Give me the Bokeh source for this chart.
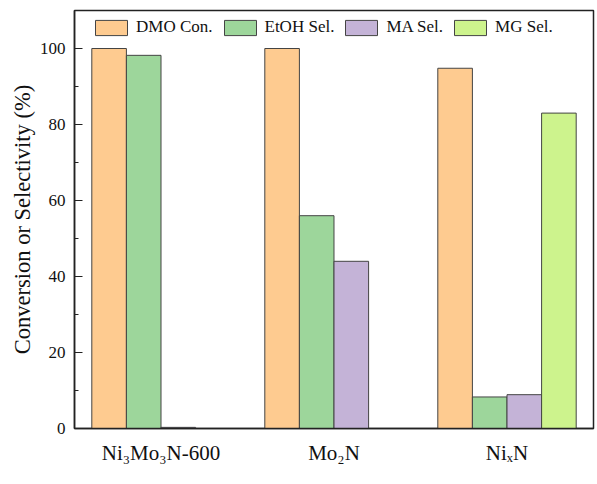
from bokeh.plotting import figure
from bokeh.models import ColumnDataSource, FactorRange, Range1d, SingleIntervalTicker, Legend, LegendItem
from bokeh.transform import dodge
from bokeh.embed import file_html
from bokeh.resources import INLINE

catalysts = ["Ni\u2083Mo\u2083N-600", "Mo\u2082N", "Ni\u2093N"]
dmo_con = [100.0, 100.0, 94.8]
etoh_sel = [98.2, 56.0, 8.3]
ma_sel = [0.3, 44.0, 8.9]
mg_sel = [0.0, 0.0, 83.0]

series_names = ["DMO Con.", "EtOH Sel.", "MA Sel.", "MG Sel."]
series_values = [dmo_con, etoh_sel, ma_sel, mg_sel]
series_colors = ["#FECB90", "#9DD69B", "#C4B3D7", "#CDF38D"]
offsets = [-0.3, -0.1, 0.1, 0.3]

FONT = "Liberation Serif"

p = figure(width=596, height=482, x_range=FactorRange(*catalysts, range_padding=0),
           y_range=Range1d(0, 110), output_backend="svg", toolbar_location=None,
           min_border_left=74, min_border_right=3, min_border_top=10, min_border_bottom=54)

items = []
for name, vals, col, off in zip(series_names, series_values, series_colors, offsets):
    xs = [c for c, v in zip(catalysts, vals) if v > 0]
    ys = [v for v in vals if v > 0]
    src = ColumnDataSource(dict(x=xs, top=ys))
    r = p.vbar(x=dodge("x", off, range=p.x_range), top="top", bottom=0, width=0.2, source=src,
               fill_color=col, line_color="#444444", line_width=1)
    items.append(LegendItem(label=name, renderers=[r]))

legend = Legend(items=items, orientation="horizontal", location=(17, 391),
                glyph_width=40, glyph_height=19, label_standoff=5, spacing=7,
                padding=0, margin=0, border_line_alpha=0, background_fill_alpha=0,
                label_text_font=FONT, label_text_font_size="17px", label_text_color="#111111",
                label_height=19)
p.add_layout(legend, "center")

p.xgrid.visible = False
p.ygrid.visible = False
p.outline_line_color = "#222222"
p.outline_line_width = 1.5
p.outline_line_alpha = 1

yax = p.yaxis[0]
yax.ticker = SingleIntervalTicker(interval=20, num_minor_ticks=2)
yax.major_tick_in = 8
yax.major_tick_out = 0
yax.minor_tick_in = 4
yax.minor_tick_out = 0
yax.axis_line_width = 1.5
yax.axis_line_color = "#222222"
yax.major_tick_line_color = "#222222"
yax.minor_tick_line_color = "#222222"
yax.major_label_text_font = FONT
yax.major_label_text_font_size = "17px"
yax.major_label_text_color = "#111111"
yax.major_label_standoff = 9
yax.axis_label = "Conversion or Selectivity (%)"
yax.axis_label_text_font = FONT
yax.axis_label_text_font_size = "22.5px"
yax.axis_label_text_font_style = "normal"
yax.axis_label_text_color = "#111111"
yax.axis_label_standoff = 2

xax = p.xaxis[0]
xax.major_tick_in = 0
xax.major_tick_out = 0
xax.minor_tick_line_color = None
xax.axis_line_width = 1.5
xax.axis_line_color = "#222222"
xax.major_label_text_font = FONT
xax.major_label_text_font_size = "21px"
xax.major_label_text_color = "#111111"
xax.major_label_standoff = 12

open("out.html", "w").write(file_html(p, INLINE))
